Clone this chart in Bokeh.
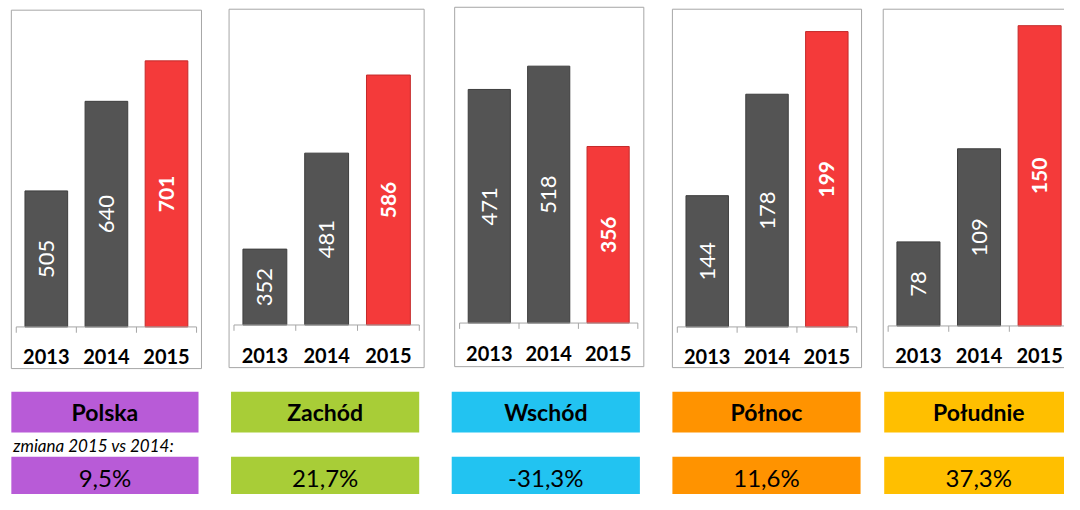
import math
from bokeh.plotting import figure
from bokeh.models import Range1d
from bokeh.embed import file_html
from bokeh.resources import INLINE
from bokeh.core.properties import value

# ---------------- data ----------------
years = ["2013", "2014", "2015"]
regions = ["Polska", "Zachód", "Wschód", "Północ", "Południe"]
polska = [505, 640, 701]
zachod = [352, 481, 586]
wschod = [471, 518, 356]
polnoc = [144, 178, 199]
poludnie = [78, 109, 150]
series = [polska, zachod, wschod, polnoc, poludnie]
axis_min = [300, 250, 0, 100, 50]
change_labels = ["9,5%", "21,7%", "-31,3%", "11,6%", "37,3%"]
change_caption = "zmiana 2015 vs 2014:"

# ---------------- layout (reference pixel coordinates, 1080 x 510) ----------------
W, H = 1064, 494
REF_W, REF_H = 1080, 510
box_l = [11, 232, 461, 682, 896]
box_r = [204, 430, 653, 874, 1089]
box_t = [10, 9, 7, 9, 9]
box_b = [380, 379, 378, 379, 379]
baseline = [337, 335, 333, 337, 336]
first_tick = [16, 237, 466, 687, 901]
cat_w = [61, 62.7, 60.3, 60.7, 61.5]
px_per_unit = [0.685, 0.768, 0.512, 3.08, 3.1]
lab_l = [11, 234, 458, 682, 897]
lab_r = [201, 425, 649, 873, 1089]
region_colors = ["#B85BD7", "#A8CD37", "#22C3F1", "#FF9300", "#FFBF00"]

FONT = value("Lato")
GRAY, GRAY_LINE = "#545454", "#3E3E3E"
RED, RED_LINE = "#F43A3A", "#C42A2A"
BORDER = "#A6A6A6"

p = figure(width=W, height=H, output_backend="svg", toolbar_location=None,
           x_range=Range1d(0, REF_W), y_range=Range1d(REF_H, 0),
           x_axis_location=None, y_axis_location=None, min_border=0,
           outline_line_color=None, background_fill_color="white",
           border_fill_color="white")
p.grid.visible = False

idx = [0, 1, 2]
for i, vals in enumerate(series):
    name = f"p{i}"
    T0, c, b, k, v0 = first_tick[i], cat_w[i], baseline[i], px_per_unit[i], axis_min[i]
    p.extra_x_ranges[name] = Range1d((0 - T0) / c - 0.5, (REF_W - T0) / c - 0.5)
    p.extra_y_ranges[name] = Range1d(v0 - (REF_H - b) / k, v0 + b / k)

    # panel frame
    p.quad(left=[box_l[i]], right=[box_r[i]], top=[box_t[i]], bottom=[box_b[i]],
           fill_color=None, line_color=BORDER, line_width=1)

    # bars
    fills = [GRAY, GRAY, RED]
    lines = [GRAY_LINE, GRAY_LINE, RED_LINE]
    p.vbar(x=idx, top=vals, bottom=v0, width=0.71, fill_color=fills,
           line_color=lines, line_width=1,
           x_range_name=name, y_range_name=name)

    mids = [(v + v0) / 2 for v in vals]
    p.text(x=idx[:2], y=mids[:2], text=[str(v) for v in vals[:2]],
           angle=math.pi / 2, text_color="white", text_font=FONT,
           text_font_size="22px", text_align="center", text_baseline="middle",
           x_range_name=name, y_range_name=name)
    p.text(x=idx[2:], y=mids[2:], text=[str(v) for v in vals[2:]],
           angle=math.pi / 2, text_color="white", text_font=FONT,
           text_font_size="21px", text_font_style="bold", text_align="center",
           text_baseline="middle", x_range_name=name, y_range_name=name)

    # category axis
    p.segment(x0=[-0.5], x1=[2.5], y0=[b], y1=[b], line_color=BORDER,
              line_width=1, x_range_name=name)
    p.segment(x0=[-0.5, 0.5, 1.5, 2.5], x1=[-0.5, 0.5, 1.5, 2.5],
              y0=[b] * 4, y1=[b + 6] * 4, line_color=BORDER, line_width=1,
              x_range_name=name)
    p.text(x=idx, y=[b + 31] * 3, text=years, text_font=FONT,
           text_font_size="20px", text_font_style="bold", text_color="black",
           text_align="center", text_baseline="middle", x_range_name=name)

# region label boxes and change boxes
p.quad(left=lab_l, right=lab_r, top=[404] * 5, bottom=[446] * 5,
       fill_color=region_colors, line_color=None)
p.quad(left=lab_l, right=lab_r, top=[471] * 5, bottom=[514] * 5,
       fill_color=region_colors, line_color=None)
centers = [(l + r) / 2 for l, r in zip(lab_l, lab_r)]
p.text(x=centers, y=[425] * 5, text=regions, text_font=FONT,
       text_font_size="23px", text_font_style="bold", text_color="black",
       text_align="center", text_baseline="middle")
p.text(x=centers, y=[492] * 5, text=change_labels, text_font=FONT,
       text_font_size="24px", text_color="black",
       text_align="center", text_baseline="middle")
p.text(x=[13], y=[459], text=[change_caption], text_font=FONT,
       text_font_size="17px", text_font_style="italic", text_color="black",
       text_align="left", text_baseline="middle")

open("out.html", "w").write(file_html(p, INLINE))
